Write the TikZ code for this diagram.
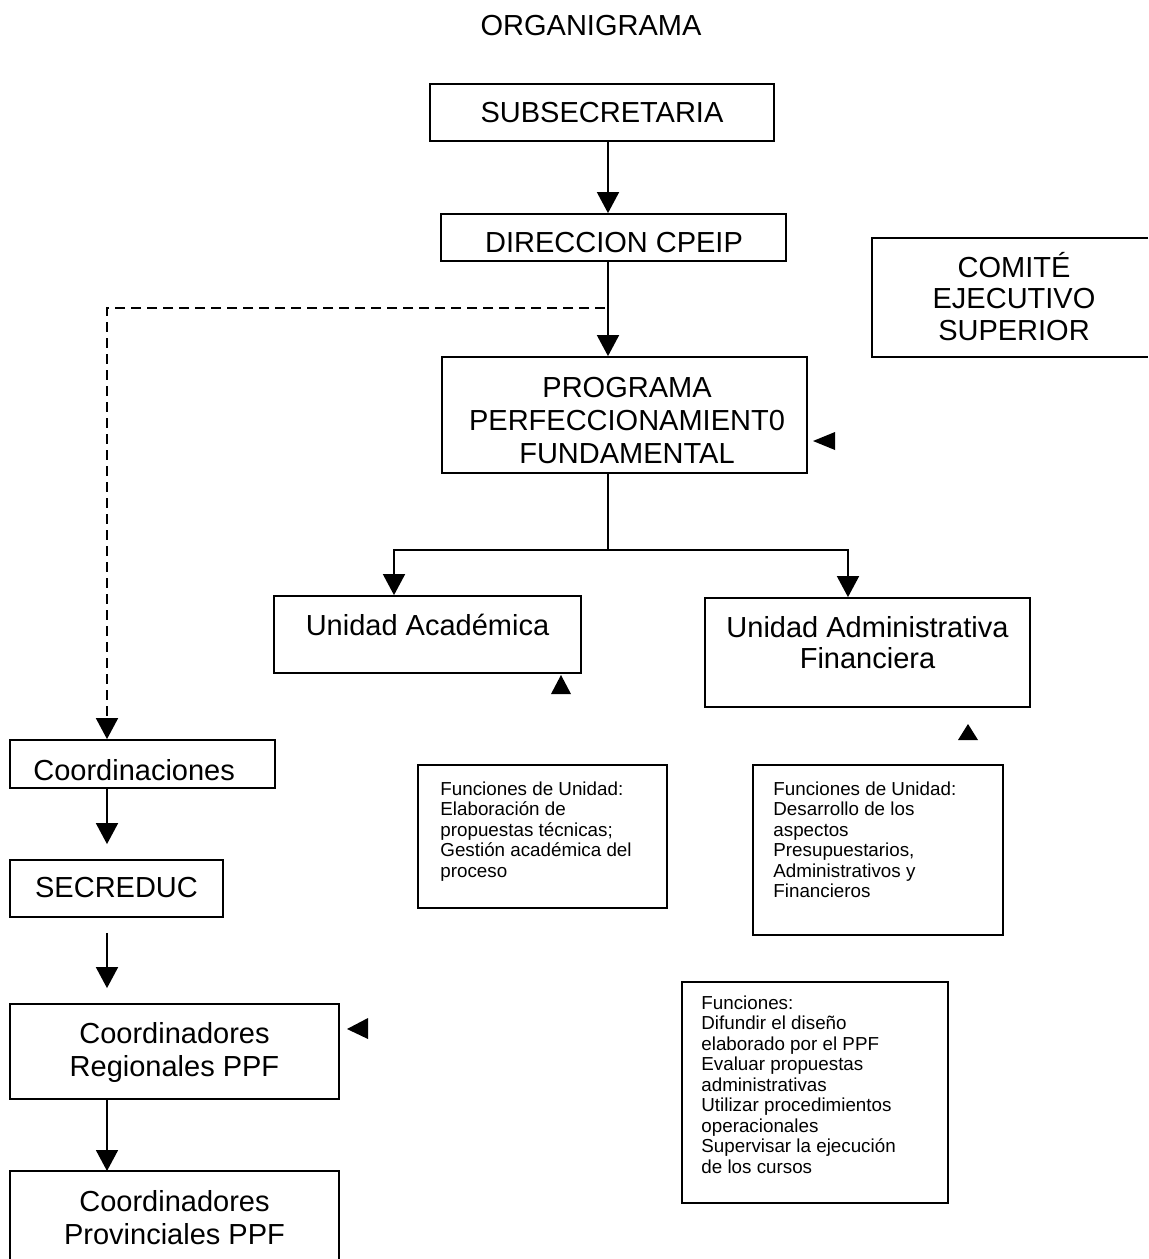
\documentclass[tikz,border=0pt]{standalone}
\usepackage{fontspec}
\setmainfont{Liberation Sans}
\usetikzlibrary{arrows.meta}
\begin{document}
\begin{tikzpicture}[x=0.5pt,y=-0.5pt,
  frame/.style={draw, line width=0.9pt, inner sep=0pt},
  big/.style={font=\fontsize{14.5}{16.5}\selectfont, align=center, inner sep=0pt, anchor=base},
  small/.style={font=\fontsize{9.4}{10.25}\selectfont, align=left, inner sep=0pt, anchor=base west},
  arr/.style={line width=0.9pt, -{Triangle[length=10.5pt,width=11pt]}},
  conn/.style={line width=0.9pt},
  dashedline/.style={line width=0.9pt, dash pattern=on 5pt off 3pt},
  trimark/.style={fill=black}]
\useasboundingbox (0,0) rectangle (1148,1259);

% title
\node[big] (title) at (591,35) {ORGANIGRAMA};

% main column (multi-line nodes are anchored at the baseline of their last line)
\node[frame, minimum width=172pt, minimum height=28.5pt] (sub) at (602,112.5) {};
\node[big] (subt) at (602,122) {SUBSECRETARIA};
\node[frame, minimum width=172.5pt, minimum height=23.5pt] (dir) at (613.5,237.5) {};
\node[big] (dirt) at (614,252) {DIRECCION CPEIP};
\node[frame, minimum width=182.5pt, minimum height=58pt] (prog) at (624.5,415) {};
\node[big] (progt) at (627,463) {PROGRAMA\\PERFECCIONAMIENT0\\FUNDAMENTAL};

% comite (cut by right edge)
\draw[conn] (1148,238) -- (872,238) -- (872,357) -- (1148,357);
\node[big, font=\fontsize{14.5}{15.75}\selectfont] (com) at (1014,340) {COMITÉ\\EJECUTIVO\\SUPERIOR};

% units
\node[frame, minimum width=153.5pt, minimum height=38.5pt] (ua) at (427.5,634.5) {};
\node[big] (uat) at (427.5,635) {Unidad Académica};
\node[frame, minimum width=162.5pt, minimum height=54.5pt] (uaf) at (867.5,652.5) {};
\node[big, font=\fontsize{14.5}{15.5}\selectfont] (uaft) at (867.5,668) {Unidad Administrativa\\Financiera};

% function boxes
\node[frame, minimum width=124.5pt, minimum height=71.5pt] (f1) at (542.5,836.5) {};
\node[small] (f1t) at (440,877) {Funciones de Unidad:\\Elaboración de\\propuestas técnicas;\\Gestión académica del\\proceso};
\node[frame, minimum width=125pt, minimum height=85pt] (f2) at (878,850) {};
\node[small] (f2t) at (773,897.5) {Funciones de Unidad:\\Desarrollo de los\\aspectos\\Presupuestarios,\\Administrativos y\\Financieros};
\node[frame, minimum width=133pt, minimum height=110.5pt] (f3) at (815,1092.5) {};
\node[small] (f3t) at (701,1173) {Funciones:\\Difundir el diseño\\elaborado por el PPF\\Evaluar propuestas\\administrativas\\Utilizar procedimientos\\operacionales\\Supervisar la ejecución\\de los cursos};

% left column
\node[frame, minimum width=132.5pt, minimum height=24pt] (coord) at (142.5,764) {};
\node[big, anchor=base west] (coordt) at (33,780) {Coordinaciones};
\node[frame, minimum width=106.5pt, minimum height=28.5pt] (sec) at (116.5,888.5) {};
\node[big] (sect) at (116.5,897) {SECREDUC};
\node[frame, minimum width=164.5pt, minimum height=47.5pt] (cr) at (174.5,1051.5) {};
\node[big] (crt) at (174.5,1076) {Coordinadores\\Regionales PPF};
\draw[conn] (10,1259) -- (10,1171) -- (339,1171) -- (339,1259);
\node[big] (cpt) at (174.5,1244) {Coordinadores\\Provinciales PPF};
\coordinate (cptop) at (107,1171);

% helper coordinates
\coordinate (ax) at (608,0);
\coordinate (cx) at (107,0);
\coordinate (dj) at (605,308);
\coordinate (split) at (608,550);
\coordinate (la) at (394,550);
\coordinate (ra) at (848,550);

% connectors
\draw[arr] (sub.south -| ax) -- (dir.north -| ax);
\draw[arr] (dir.south -| ax) -- (prog.north -| ax);
\draw[dashedline, -{Triangle[length=10.5pt,width=11pt]}] (dj) -| (coord.north -| cx);
\draw[conn] (prog.south -| split) -- (split);
\draw[arr] (split) -| (ua.north -| la);
\draw[arr] (split) -| (uaf.north -| ra);
\draw[arr, shorten >=7.5pt] (coord.south -| cx) -- (sec.north -| cx);
\draw[arr, shorten <=7.5pt, shorten >=7.5pt] (sec.south -| cx) -- (cr.north -| cx);
\draw[arr] (cr.south -| cx) -- (cptop);

% small triangle marks
\fill[trimark] (813,441) -- (835,432) -- (835,450) -- cycle;
\fill[trimark] (561,675) -- (551,694) -- (571,694) -- cycle;
\fill[trimark] (968,724) -- (958,740) -- (978,740) -- cycle;
\fill[trimark] (347,1029) -- (368,1018) -- (368,1039) -- cycle;
\end{tikzpicture}
\end{document}
